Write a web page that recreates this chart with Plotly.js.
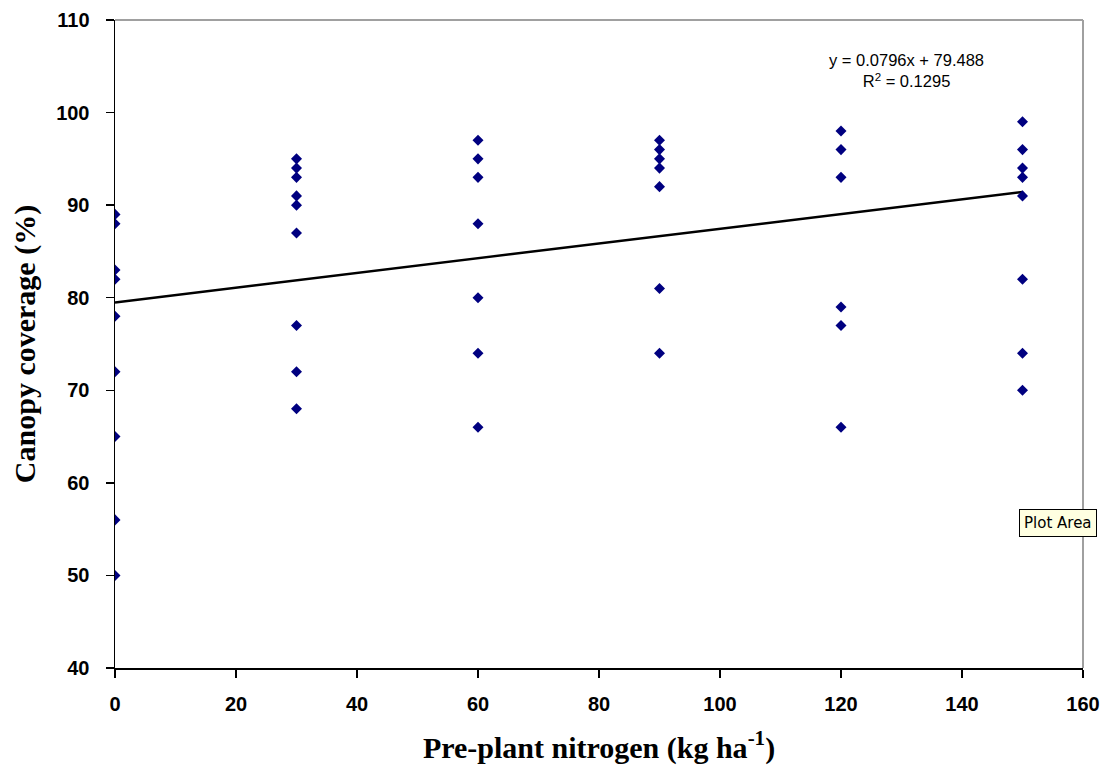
<!DOCTYPE html>
<html>
<head>
<meta charset="utf-8">
<script src="https://cdn.plot.ly/plotly-3.0.1.min.js"></script>
<style>html,body{margin:0;padding:0;background:#fff;}#chart{width:1112px;height:776px;}</style>
</head>
<body>
<div id="chart"></div>
<script>
// Pre-plant nitrogen levels (kg/ha) and canopy coverage (%)
var n0 = [89, 88, 83, 82, 78, 72, 65, 56, 50];
var n30 = [95, 94, 93, 91, 90, 87, 77, 72, 68];
var n60 = [97, 95, 93, 88, 80, 74, 66];
var n90 = [97, 96, 95, 94, 92, 81, 74];
var n120 = [98, 96, 93, 79, 77, 66];
var n150 = [99, 96, 94, 93, 91, 82, 74, 70];
var nitrogenLevels = [0, 30, 60, 90, 120, 150];
var coverageGroups = [n0, n30, n60, n90, n120, n150];

// Linear trendline reported on the chart
var slope = 0.0796;
var intercept = 79.488;
var rSquared = 0.1295;

var xs = [], ys = [];
coverageGroups.forEach(function (g, i) {
  g.forEach(function (v) { xs.push(nitrogenLevels[i]); ys.push(v); });
});

var xMin = nitrogenLevels[0], xMax = nitrogenLevels[nitrogenLevels.length - 1];
var trendX = [xMin, xMax];
var trendY = trendX.map(function (x) { return slope * x + intercept; });

var data = [
  {
    x: trendX, y: trendY, type: 'scatter', mode: 'lines',
    line: {color: '#000000', width: 2.5}, hoverinfo: 'skip', showlegend: false
  },
  {
    x: xs, y: ys, type: 'scatter', mode: 'markers',
    marker: {symbol: 'diamond', size: 8.5, color: '#000080'},
    hoverinfo: 'skip', showlegend: false
  }
];

var tickFont = {family: 'Liberation Sans, Arial, sans-serif', size: 20, color: '#000', weight: 'bold'};
var titleFont = {family: 'Liberation Serif, Times New Roman, serif', size: 30, color: '#000', weight: 'bold'};

var layout = {
  width: 1112, height: 776,
  margin: {l: 115, r: 29, t: 20, b: 108},
  paper_bgcolor: '#fff', plot_bgcolor: '#fff',
  showlegend: false,
  xaxis: {
    range: [0, 160], tickmode: 'linear', tick0: 0, dtick: 20,
    showgrid: false, zeroline: false, showline: true, linecolor: '#000', linewidth: 1.5,
    ticks: 'outside', ticklen: 8, tickcolor: '#000', tickwidth: 1.5,
    tickfont: tickFont, ticklabelstandoff: 9,
    title: {text: '<b>Pre-plant nitrogen (kg ha<sup>-1</sup>)</b>', font: titleFont, standoff: 23}
  },
  yaxis: {
    range: [40, 110], tickmode: 'linear', tick0: 40, dtick: 10,
    showgrid: false, zeroline: false, showline: true, linecolor: '#000', linewidth: 1.5,
    ticks: 'outside', ticklen: 8, tickcolor: '#000', tickwidth: 1.5,
    tickfont: tickFont, ticklabelstandoff: 12,
    title: {text: '<b>Canopy coverage (%)</b>', font: titleFont, standoff: 11}
  },
  shapes: [
    {type: 'line', xref: 'paper', yref: 'paper', x0: 0, x1: 1, y0: 1, y1: 1,
     line: {color: '#a0a0a0', width: 2}},
    {type: 'line', xref: 'paper', yref: 'paper', x0: 1, x1: 1, y0: 0, y1: 1,
     line: {color: '#a0a0a0', width: 2}}
  ],
  annotations: [
    {
      xref: 'x', yref: 'y', x: 130.9, y: 104.5, xanchor: 'center', yanchor: 'middle',
      text: 'y = ' + slope + 'x + ' + intercept + '<br>R<sup>2</sup> = ' + rSquared,
      showarrow: false, align: 'center',
      font: {family: 'Liberation Sans, Arial, sans-serif', size: 16.5, color: '#000'}
    },
    {
      xref: 'paper', yref: 'paper', x: 0.974, y: 0.224, xanchor: 'center', yanchor: 'middle',
      text: 'Plot Area', showarrow: false,
      bgcolor: '#ffffe1', bordercolor: '#000', borderwidth: 1, borderpad: 4,
      font: {family: 'DejaVu Sans, sans-serif', size: 15, color: '#000'}
    }
  ]
};

Plotly.newPlot('chart', data, layout, {staticPlot: true, displayModeBar: false});
</script>
</body>
</html>
